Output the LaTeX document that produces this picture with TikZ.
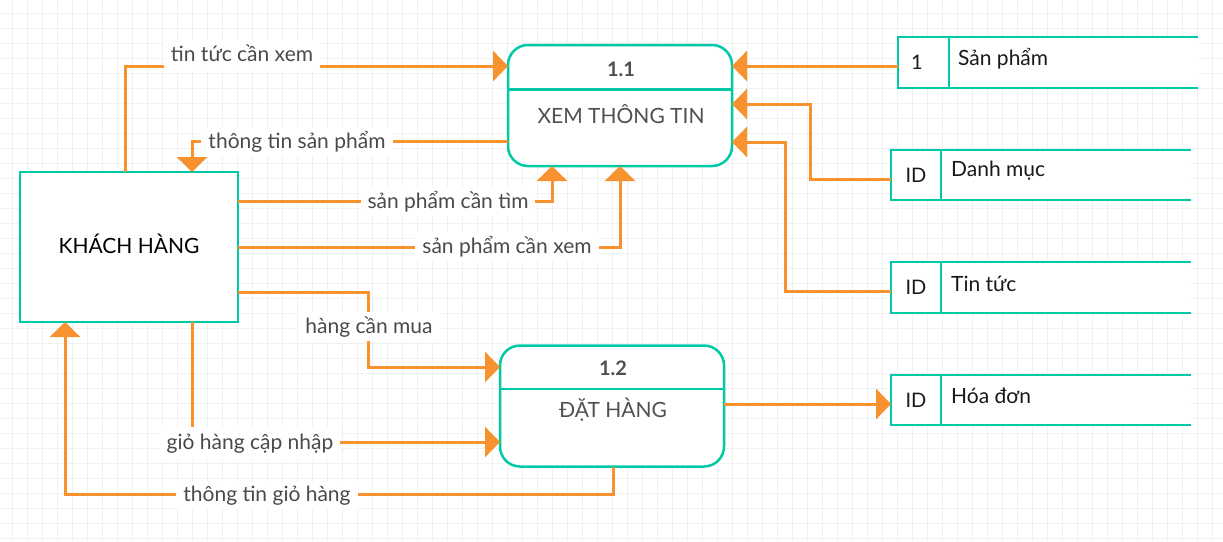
\documentclass[tikz,border=0pt]{standalone}
\usepackage{fontspec}
\setmainfont{Lato}
\usetikzlibrary{arrows.meta,calc}
\definecolor{flowc}{HTML}{F7922F}
\definecolor{tealc}{HTML}{00C9A7}
\definecolor{gridc}{HTML}{F1F1F1}
\definecolor{lblc}{HTML}{4A4A4A}
\definecolor{procc}{HTML}{505050}
\tikzset{
  flow/.style={draw=flowc, line width=3pt, -{Triangle[length=15pt,width=30pt]}},
  lbl/.style={fill=white, text=lblc, inner xsep=7pt, inner ysep=4pt, font=\fontsize{21}{24}\selectfont, anchor=base},
  extbox/.style={draw=tealc, fill=white, line width=2.5pt, outer sep=0pt, minimum width=218pt, minimum height=150pt},
  exttext/.style={font=\fontsize{21}{24}\selectfont, text=black},
  procbox/.style={draw=tealc, fill=white, line width=2.5pt, outer sep=0pt, rounded corners=20pt, minimum width=224pt, minimum height=121pt},
  procnum/.style={font=\bfseries\fontsize{20}{22}\selectfont, text=procc},
  proctitle/.style={font=\fontsize{21}{24}\selectfont, text=procc},
  idbox/.style={draw=tealc, line width=2.5pt, outer sep=0pt, minimum width=50pt, minimum height=50pt, inner sep=0pt, font=\fontsize{20}{22}\selectfont, text=black!90},
  storetext/.style={anchor=west, font=\fontsize{21}{24}\selectfont, text=black!90, inner sep=0pt},
  storeline/.style={draw=tealc, line width=2.5pt},
}
\begin{document}
\begin{tikzpicture}[x=1pt,y=-1pt]
\useasboundingbox (0,0) rectangle (1223,541);
\fill[white] (0,0) rectangle (1223,541);
% grid
\foreach \i in {0,...,81} {\draw[gridc, line width=1.3pt] (12.3+15*\i,0) -- (12.3+15*\i,541);}
\foreach \j in {0,...,35} {\draw[gridc, line width=1.3pt] (0,13.3+15*\j) -- (1223,13.3+15*\j);}

% external entity
\node[extbox] (kh) at (129,247) {};
\node[exttext] (kht) at (129,244) {KHÁCH HÀNG};

% process 1.1
\node[procbox] (p1) at (620,105.5) {};
\draw[storeline] (p1.west |- 0,89.5) -- (p1.east |- 0,89.5);
\node[procnum] (p1n) at (621,69) {1.1};
\node[proctitle] (p1t) at (621,114) {XEM THÔNG TIN};

% process 1.2
\node[procbox] (p2) at (612,406) {};
\draw[storeline] (p2.west |- 0,389) -- (p2.east |- 0,389);
\node[procnum] (p2n) at (613,368) {1.2};
\node[proctitle] (p2t) at (613,410) {ĐẶT HÀNG};

% data stores
\fill[white] (898,37) rectangle (1198,88);
\node[idbox, minimum width=51pt, minimum height=51pt] (s1id) at (923.5,62.5) {};
\node[font=\fontsize{20}{22}\selectfont, text=black!90] (s1n) at (917,62) {1};
\draw[storeline] (s1id.north east) -- ++(249,0);
\draw[storeline] (s1id.south east) -- ++(249,0);
\node[storetext] (s1) at (958,59) {Sản phẩm};

\fill[white] (891,150) rectangle (1191,200);
\node[idbox] (s2id) at (916,175) {ID};
\draw[storeline] (s2id.north east) -- ++(250,0);
\draw[storeline] (s2id.south east) -- ++(250,0);
\node[storetext] (s2) at (951,171) {Danh mục};

\fill[white] (891,262) rectangle (1191,313);
\node[idbox, minimum height=51pt] (s3id) at (916,287.5) {ID};
\draw[storeline] (s3id.north east) -- ++(250,0);
\draw[storeline] (s3id.south east) -- ++(250,0);
\node[storetext] (s3) at (951,284) {Tin tức};

\fill[white] (891,375) rectangle (1191,425);
\node[idbox] (s4id) at (916,400) {ID};
\draw[storeline] (s4id.north east) -- ++(250,0);
\draw[storeline] (s4id.south east) -- ++(250,0);
\node[storetext] (s4) at (951,396) {Hóa đơn};

% helper coordinates
\coordinate (m5) at (368,367);
\coordinate (m7) at (613,494);
\coordinate (m9) at (810,104);
\coordinate (m10) at (785,142);

% flows
\draw[flow] (kh.north -| 125,0) |- (p1.west |- 0,66);
\draw[flow] (p1.west |- 0,141) -| (kh.north -| 192,0);
\draw[flow] (kh.east |- 0,201) -| (p1.south -| 552,0);
\draw[flow] (kh.east |- 0,247) -| (p1.south -| 620,0);
\draw[flow] (kh.east |- 0,292) -| (m5) -- (p2.west |- m5);
\draw[flow] (kh.south -| 192,0) |- (p2.west |- 0,442);
\draw[flow] (p2.south -| m7) -- (m7) -| (kh.south -| 65,0);
\draw[flow] (s1id.west |- 0,66) -- (p1.east |- 0,66);
\draw[flow] (s2id.west |- 0,179) -| (m9) -- (p1.east |- m9);
\draw[flow] (s3id.west |- 0,291) -| (m10) -- (p1.east |- m10);
\draw[flow] (p2.east |- 0,404) -- (s4id.west |- 0,404);

% labels
\node[lbl, text depth=6pt] (l1) at (242,61) {tin tức cần xem};
\node[lbl] (l2) at (297,148) {thông tin sản phẩm};
\node[lbl] (l3) at (448,208) {sản phẩm cần tìm};
\node[lbl] (l4) at (507,253) {sản phẩm cần xem};
\node[lbl] (l5) at (369,333) {hàng cần mua};
\node[lbl, inner ysep=7pt] (l6) at (250,449) {giỏ hàng cập nhập};
\node[lbl] (l7) at (267,501) {thông tin giỏ hàng};
\end{tikzpicture}
\end{document}
